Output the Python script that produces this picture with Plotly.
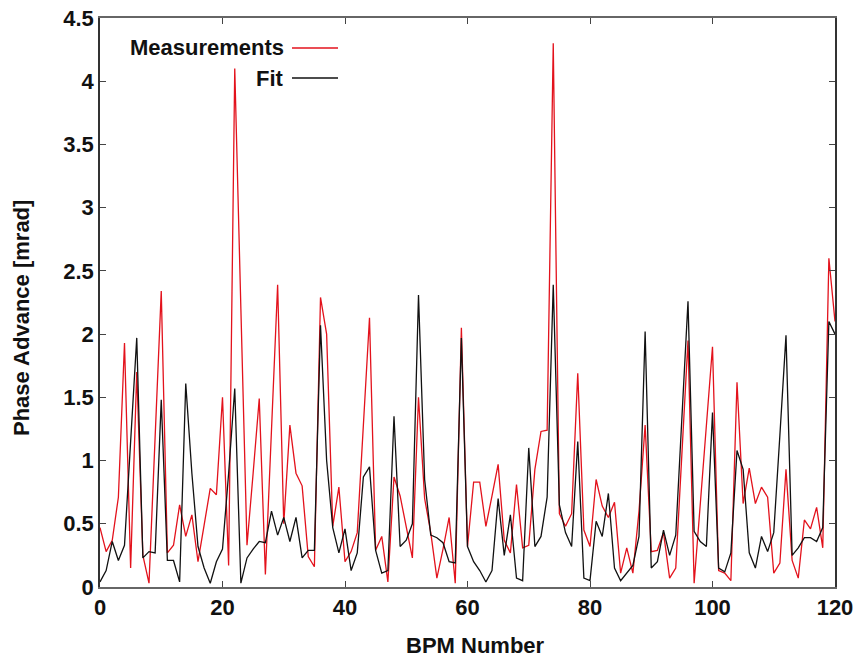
import plotly.graph_objects as go

bpm = list(range(121))

measurements = [
    0.47, 0.28, 0.37, 0.71, 1.93, 0.15, 1.70, 0.25, 0.03, 1.20,
    2.34, 0.27, 0.33, 0.65, 0.40, 0.57, 0.20, 0.49, 0.78, 0.73,
    1.50, 0.17, 4.10, 2.20, 0.33, 0.90, 1.49, 0.10, 1.25, 2.39,
    0.50, 1.28, 0.90, 0.80, 0.24, 0.16, 2.29, 2.00, 0.48, 0.79,
    0.20, 0.28, 0.43, 1.30, 2.13, 0.29, 0.40, 0.04, 0.87, 0.72,
    0.48, 0.23, 1.50, 0.70, 0.43, 0.07, 0.30, 0.55, 0.03, 2.05,
    0.32, 0.83, 0.83, 0.48, 0.72, 0.97, 0.37, 0.27, 0.81, 0.31,
    0.33, 0.93, 1.23, 1.24, 4.30, 0.58, 0.48, 0.58, 1.69, 0.45,
    0.32, 0.85, 0.64, 0.55, 0.67, 0.11, 0.31, 0.11, 0.60, 1.28,
    0.28, 0.29, 0.43, 0.07, 0.15, 1.00, 1.95, 0.03, 0.65, 1.30,
    1.90, 0.13, 0.11, 0.05, 1.62, 0.66, 0.94, 0.66, 0.79, 0.71,
    0.11, 0.19, 0.93, 0.21, 0.07, 0.53, 0.46, 0.63, 0.31, 2.60,
    2.10,
]

fit = [
    0.04, 0.13, 0.36, 0.21, 0.33, 1.15, 1.97, 0.23, 0.28, 0.27,
    1.48, 0.21, 0.21, 0.04, 1.61, 0.90, 0.32, 0.15, 0.03, 0.20,
    0.30, 0.90, 1.57, 0.03, 0.23, 0.30, 0.36, 0.35, 0.60, 0.41,
    0.55, 0.36, 0.55, 0.23, 0.29, 0.29, 2.07, 1.00, 0.47, 0.27,
    0.46, 0.13, 0.27, 0.87, 0.95, 0.29, 0.11, 0.13, 1.35, 0.32,
    0.37, 0.50, 2.31, 0.85, 0.41, 0.39, 0.35, 0.20, 0.19, 1.97,
    0.32, 0.20, 0.13, 0.04, 0.13, 0.70, 0.25, 0.57, 0.07, 0.05,
    1.10, 0.32, 0.40, 0.71, 2.39, 0.65, 0.43, 0.32, 1.15, 0.07,
    0.05, 0.52, 0.40, 0.74, 0.15, 0.05, 0.11, 0.17, 0.40, 2.02,
    0.15, 0.20, 0.45, 0.25, 0.41, 1.30, 2.26, 0.44, 0.36, 0.32,
    1.38, 0.15, 0.12, 0.27, 1.08, 0.93, 0.27, 0.15, 0.40, 0.28,
    0.43, 1.20, 1.99, 0.25, 0.31, 0.39, 0.39, 0.36, 0.47, 2.10,
    2.00,
]

x_ticks = [0, 20, 40, 60, 80, 100, 120]
y_ticks = [0, 0.5, 1, 1.5, 2, 2.5, 3, 3.5, 4, 4.5]
y_tick_labels = ["0", "0.5", "1", "1.5", "2", "2.5", "3", "3.5", "4", "4.5"]

RED = "#e3121c"
BLACK = "#111111"
FONT = "Liberation Sans, Arial, sans-serif"
FS = 22
W, H = 861, 661
ML, MR, MT, MB = 100, 26, 18, 74
PW, PH = W - ML - MR, H - MT - MB

fig = go.Figure()
fig.add_trace(go.Scatter(x=bpm, y=measurements, mode="lines", name="Measurements",
                         line=dict(color=RED, width=1.3), showlegend=False))
fig.add_trace(go.Scatter(x=bpm, y=fit, mode="lines", name="Fit",
                         line=dict(color=BLACK, width=1.3), showlegend=False))

fig.update_layout(
    width=W, height=H,
    margin=dict(l=ML, r=MR, t=MT, b=MB, autoexpand=False),
    paper_bgcolor="white", plot_bgcolor="white",
    font=dict(family=FONT, size=FS, color="#111"),
)
fig.update_xaxes(
    range=[0, 120], tickvals=x_ticks, ticks="inside", ticklen=6, tickcolor="#444",
    showline=True, linecolor="#666", linewidth=2, mirror="ticks", showgrid=False,
    zeroline=False, automargin=False,
    tickfont=dict(family=FONT, size=FS, weight="bold", color="#111"),
)
fig.update_yaxes(
    range=[0, 4.5], tickvals=y_ticks, ticktext=y_tick_labels, ticks="inside", ticklen=6,
    tickcolor="#444", showline=True, linecolor="#333", linewidth=1.5, mirror="ticks",
    showgrid=False, zeroline=False, automargin=False,
    tickfont=dict(family=FONT, size=FS, weight="bold", color="#111"),
)

# axis titles
fig.add_annotation(xref="paper", yref="paper", x=(475 - ML) / PW, y=-(645 - MT - PH) / PH,
                   text="BPM Number", showarrow=False, xanchor="center", yanchor="middle",
                   font=dict(family=FONT, size=FS, weight="bold", color="#111"))
fig.add_annotation(xref="paper", yref="paper", x=-(ML - 21) / PW, y=1 - (318 - MT) / PH,
                   text="Phase Advance [mrad]", showarrow=False, textangle=-90,
                   xanchor="center", yanchor="middle",
                   font=dict(family=FONT, size=FS, weight="bold", color="#111"))

# gnuplot-style legend: right-aligned label, line sample to the right
legend_items = [("Measurements", RED, 48), ("Fit", BLACK, 78)]
for label, color, ypx in legend_items:
    yp = 1 - (ypx - MT) / PH
    fig.add_annotation(xref="paper", yref="paper", x=(286 - ML) / PW, y=yp,
                       text=label, showarrow=False, xanchor="right", yanchor="middle",
                       font=dict(family=FONT, size=FS, weight="bold", color="#111"))
    fig.add_shape(type="line", xref="paper", yref="paper",
                  x0=(292 - ML) / PW, x1=(338 - ML) / PW, y0=yp, y1=yp,
                  line=dict(color=color, width=1.5))

fig.write_html("out.html")
